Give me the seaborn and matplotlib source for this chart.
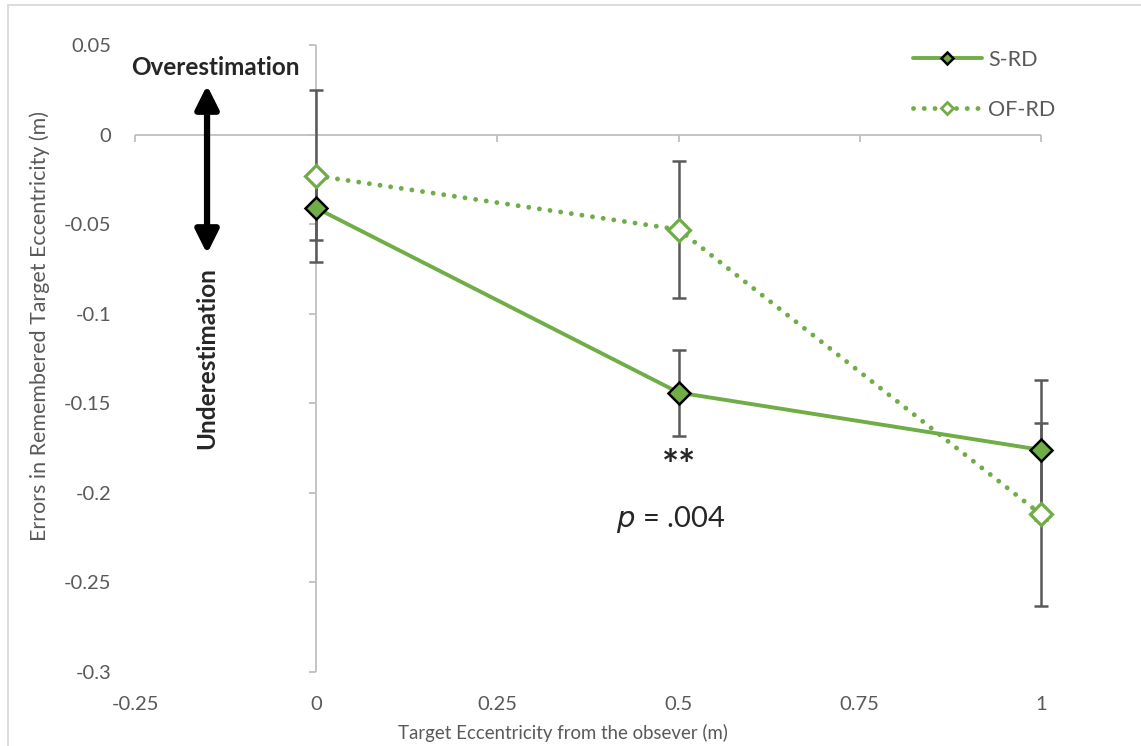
import numpy as np
import pandas as pd
import seaborn as sns
import matplotlib.pyplot as plt
from matplotlib.lines import Line2D
from matplotlib.patches import Rectangle

# valeurs
x_vals = [0, 0.5, 1]
s_rd = [-0.041, -0.144, -0.176]
s_rd_err = [0.018, 0.024, 0.039]
of_rd = [-0.023, -0.053, -0.212]
of_rd_err = [0.048, 0.038, 0.051]

x_ticks = [-0.25, 0, 0.25, 0.5, 0.75, 1]
x_tick_labels = ["-0.25", "0", "0.25", "0.5", "0.75", "1"]
y_ticks = [0.05, 0, -0.05, -0.1, -0.15, -0.2, -0.25, -0.3]
y_tick_labels = ["0.05", "0", "-0.05", "-0.1", "-0.15", "-0.2", "-0.25", "-0.3"]

df = pd.DataFrame({"x": x_vals, "S-RD": s_rd, "OF-RD": of_rd})

sns.set_style("white")
plt.rcParams['font.family'] = ['Lato', 'DejaVu Sans']

green = "#70AD47"
grey_txt = "#595959"
axis_grey = "#BFBFBF"

fig = plt.figure(figsize=(11.41, 7.46), dpi=100)
ax = fig.add_axes([135 / 1141, 1 - 672 / 746, (1041 - 135) / 1141, (672 - 45) / 746])

# axes qui se croisent en 0
ax.axhline(0, color=axis_grey, lw=1.3, zorder=1)
ax.axvline(0, color=axis_grey, lw=1.3, zorder=1)
ax.plot(np.zeros(len(y_ticks)), y_ticks, ls='none', marker=0, ms=5, mew=1.3, color=axis_grey, zorder=1, clip_on=False)
ax.plot(x_ticks, np.zeros(len(x_ticks)), ls='none', marker=3, ms=5, mew=1.3, color=axis_grey, zorder=1, clip_on=False)

# barres d'erreur
for yv, ev in [(of_rd, of_rd_err), (s_rd, s_rd_err)]:
    eb = ax.errorbar(x_vals, yv, yerr=ev, fmt='none', ecolor=grey_txt, elinewidth=1.8, capsize=4.8,
                     capthick=1.8, zorder=2)
    for art in eb.lines[1] + eb.lines[2]:
        art.set_clip_on(False)

sns.lineplot(data=df, x="x", y="OF-RD", ax=ax, color=green, lw=3.5, linestyle=(0, (0.01, 2.2)),
             dash_capstyle='round', marker='D', markersize=11, markerfacecolor='white',
             markeredgecolor=green, markeredgewidth=2.3, zorder=3, clip_on=False)
sns.lineplot(data=df, x="x", y="S-RD", ax=ax, color=green, lw=2.8, marker='D', markersize=11,
             markerfacecolor=green, markeredgecolor='black', markeredgewidth=1.8, zorder=4, clip_on=False)

ax.set_xlim(-0.25, 1)
ax.set_ylim(-0.3, 0.05)
ax.set_xticks(x_ticks)
ax.set_xticklabels(x_tick_labels)
ax.set_yticks(y_ticks)
ax.set_yticklabels(y_tick_labels)
ax.tick_params(axis='both', length=0, labelsize=14.5, labelcolor=grey_txt)
ax.tick_params(axis='y', pad=17)
ax.tick_params(axis='x', pad=17)
for s in ax.spines.values():
    s.set_visible(False)
ax.set_xlabel("")
ax.set_ylabel("")

fig.text(563 / 1141, 1 - 733 / 746, "Target Eccentricity from the obsever (m)", ha='center', va='center',
         fontsize=13.4, color=grey_txt)
fig.text(40 / 1141, 1 - 326 / 746, "Errors in Remembered Target Eccentricity (m)", ha='center', va='center',
         rotation=90, fontsize=15.4, color=grey_txt)

# flèche et annotations
ax.annotate("", xy=(-0.1506, 0.0275), xytext=(-0.1506, -0.0665),
            arrowprops=dict(arrowstyle='<|-|>,head_length=0.7,head_width=0.35', lw=4.5, color='black',
                            mutation_scale=20, shrinkA=0, shrinkB=0))
ax.text(-0.1395, 0.0374, "Overestimation", ha='center', va='center', fontsize=17.5, fontweight='bold')
ax.text(-0.1506, -0.1246, "Underestimation", ha='center', va='center', fontsize=17.5, fontweight='bold',
        rotation=90)
ax.text(0.5, -0.186, "**", ha='center', va='center', fontsize=29, fontweight='bold')
ax.text(0.489, -0.215, "$\\it{p}$ = .004", ha='center', va='center', fontsize=21)

handles = [
    Line2D([], [], color=green, lw=2.8, marker='D', ms=6, mfc=green, mec='black', mew=1.8),
    Line2D([], [], color=green, lw=3.5, ls=(0, (0.01, 2.2)), dash_capstyle='round', marker='D', ms=6,
           mfc='white', mec=green, mew=2),
]
ax.legend(handles, ["S-RD", "OF-RD"], loc='upper left', bbox_to_anchor=(913 / 1141, 1 - 50 / 746),
          bbox_transform=fig.transFigure, frameon=False, fontsize=15.5, labelcolor=grey_txt,
          handlelength=3.2, handletextpad=0.3, labelspacing=1.38, borderpad=0, borderaxespad=0)

fig.patches.append(Rectangle((8 / 1141, -0.01), 1.1, 1 - 5 / 746 + 0.01, transform=fig.transFigure,
                             fill=False, edgecolor='#D9D9D9', lw=1.3))

plt.savefig("out.png", dpi=100)
